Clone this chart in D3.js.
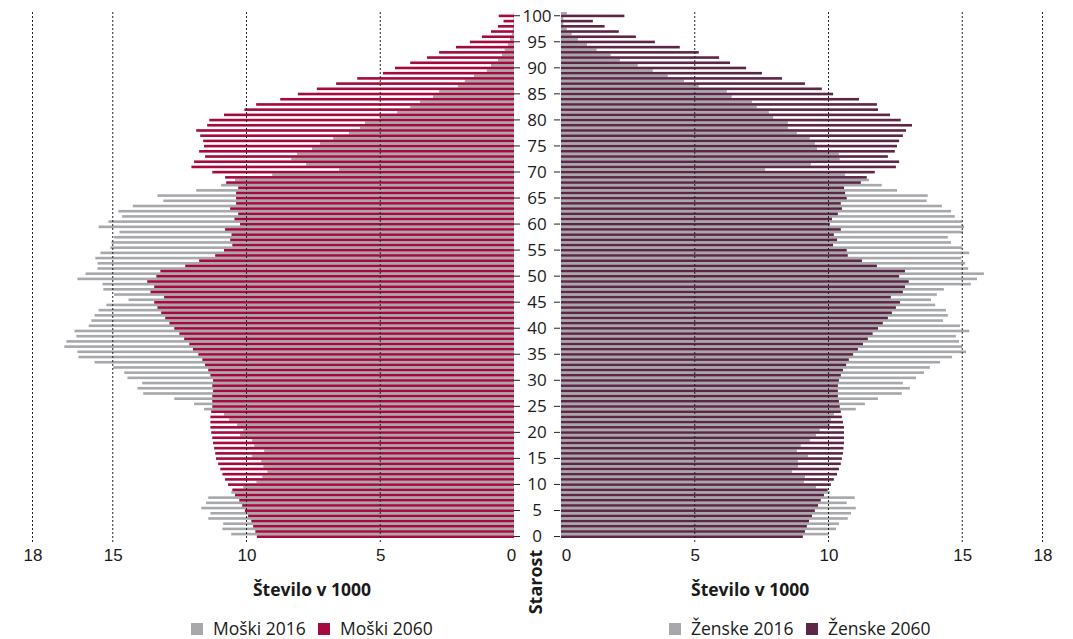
<!DOCTYPE html>
<html>
<head>
<meta charset="utf-8">
<script src="https://cdnjs.cloudflare.com/ajax/libs/d3/7.8.5/d3.min.js"></script>
<style>
  body { margin: 0; background: #fff; }
  svg { display: block; font-family: "Open Sans", Lato, sans-serif; }
</style>
</head>
<body>
<svg width="1073" height="639"></svg>
<script>
// ages 0..100, values in thousands
let ages = d3.range(0, 101);

let male2016 = [10.57, 10.90, 10.87, 11.43, 11.35, 11.69, 11.51, 11.43, 10.57, 10.12,
  9.63, 9.41, 9.22, 9.37, 9.45, 9.79, 9.34, 9.71, 9.79, 10.24,
  10.12, 10.35, 10.65, 10.84, 11.59, 11.96, 12.70, 13.86, 14.08, 13.90,
  14.45, 14.57, 14.98, 15.68, 16.28, 16.32, 16.81, 16.73, 16.36, 16.43,
  15.90, 15.80, 15.68, 15.53, 15.24, 14.41, 14.95, 15.35, 15.38, 16.32,
  16.02, 15.57, 15.57, 15.65, 15.46, 15.09, 15.05, 14.95, 14.75, 15.53,
  15.16, 14.65, 14.79, 14.25, 13.11, 13.33, 11.88, 10.95, 10.43, 9.04,
  6.54, 7.77, 8.33, 8.11, 7.55, 7.25, 6.76, 6.17, 5.76, 5.57,
  5.00, 4.37, 3.88, 3.51, 3.03, 2.80, 2.10, 1.84, 1.50, 1.02,
  0.86, 0.60, 0.45, 0.35, 0.23, 0.15, 0.08, 0.05, 0.03, 0.02, 0.01];

let male2060 = [9.61, 9.67, 9.75, 9.82, 9.94, 10.06, 10.16, 10.27, 10.43, 10.53,
  10.69, 10.80, 10.90, 10.98, 11.06, 11.14, 11.17, 11.21, 11.25, 11.28,
  11.32, 11.35, 11.35, 11.35, 11.32, 11.28, 11.28, 11.28, 11.25, 11.28,
  11.25, 11.35, 11.43, 11.55, 11.65, 11.80, 12.00, 12.14, 12.33, 12.51,
  12.70, 12.88, 13.04, 13.19, 13.33, 13.45, 13.08, 13.59, 13.45, 13.71,
  13.37, 13.22, 12.29, 11.77, 11.17, 10.84, 10.53, 10.61, 10.56, 10.80,
  10.24, 10.45, 10.31, 10.61, 10.39, 10.39, 10.39, 10.31, 10.76, 10.80,
  11.28, 12.06, 11.96, 11.55, 11.77, 11.59, 11.62, 11.73, 11.88, 11.47,
  11.39, 10.84, 10.08, 9.64, 8.74, 8.08, 7.37, 6.65, 5.86, 4.90,
  4.45, 3.88, 3.25, 2.80, 2.17, 1.65, 1.20, 0.86, 0.60, 0.39, 0.57];

let female2016 = [10.02, 10.28, 10.39, 10.72, 10.84, 11.02, 10.68, 10.98, 10.05, 9.53,
  9.08, 9.12, 8.64, 8.86, 8.86, 9.23, 8.82, 8.96, 9.30, 9.53,
  9.67, 10.05, 10.09, 10.20, 11.02, 11.36, 11.85, 12.74, 13.04, 12.78,
  13.27, 13.57, 13.79, 14.17, 14.62, 15.14, 15.00, 14.88, 14.76, 15.26,
  14.92, 14.28, 14.46, 14.39, 13.99, 13.83, 14.05, 14.31, 15.32, 15.55,
  15.81, 15.22, 15.11, 14.96, 15.26, 15.00, 14.58, 14.46, 15.03, 15.07,
  15.00, 14.72, 14.58, 14.24, 13.67, 13.71, 12.56, 11.99, 11.51, 10.62,
  7.63, 9.34, 10.42, 10.39, 9.57, 9.49, 9.30, 8.82, 8.48, 8.48,
  7.93, 7.77, 7.32, 7.14, 6.38, 6.20, 5.15, 4.60, 3.99, 3.43,
  2.87, 2.20, 1.86, 1.33, 0.97, 0.63, 0.40, 0.22, 0.09, 0.09, 0.22];

let female2060 = [9.04, 9.12, 9.19, 9.27, 9.38, 9.49, 9.61, 9.71, 9.83, 9.97,
  10.09, 10.20, 10.32, 10.39, 10.46, 10.50, 10.54, 10.56, 10.58, 10.58,
  10.58, 10.58, 10.54, 10.50, 10.46, 10.42, 10.39, 10.35, 10.35, 10.35,
  10.39, 10.46, 10.54, 10.66, 10.76, 10.92, 11.10, 11.29, 11.47, 11.65,
  11.85, 12.03, 12.22, 12.37, 12.52, 12.67, 12.33, 12.78, 12.86, 13.00,
  12.64, 12.86, 11.81, 11.25, 10.72, 10.68, 10.17, 10.32, 10.20, 10.46,
  10.05, 10.13, 10.35, 10.50, 10.46, 10.68, 10.62, 10.58, 11.21, 11.43,
  11.73, 12.52, 12.64, 12.22, 12.48, 12.56, 12.64, 12.78, 12.90, 13.12,
  12.70, 12.30, 11.85, 11.81, 11.14, 10.17, 9.75, 9.12, 8.26, 7.51,
  6.92, 6.32, 5.91, 5.15, 4.44, 3.51, 2.80, 2.16, 1.63, 1.19, 2.37];

let xTickValues = [0, 5, 10, 15, 18];
let ageTicks = d3.range(0, 101, 5);
let years = ["2016", "2060"];

let colors = {grey: "#a7a8ab", male: "#a6093d", female: "#5d2646"};

let svg = d3.select("svg");

let y = d3.scaleBand().domain(ages.slice().reverse()).range([12, 538]);
let sub = d3.scaleBand().domain(years).range([0, y.bandwidth()]);

let xL = d3.scaleLinear().domain([0, 18]).range([514, 32.5]),
    xR = d3.scaleLinear().domain([0, 18]).range([561, 1042.5]);

let panels = [
  {x: xL, left: true, series: [{year: "2016", values: male2016, color: colors.grey}, {year: "2060", values: male2060, color: colors.male}],
   title: "Število v 1000", titleX: xL(7.55),
   legend: [{label: "Moški 2016", color: colors.grey, x: 191}, {label: "Moški 2060", color: colors.male, x: 318}]},
  {x: xR, left: false, series: [{year: "2016", values: female2016, color: colors.grey}, {year: "2060", values: female2060, color: colors.female}],
   title: "Število v 1000", titleX: xR(7.07),
   legend: [{label: "Ženske 2016", color: colors.grey, x: 669}, {label: "Ženske 2060", color: colors.female, x: 806}]}
];

panels.forEach((p) => {
  let g = svg.append("g");

  p.series.forEach((s) => {
    g.append("g").selectAll("rect")
      .data(ages)
      .enter().append("rect")
        .attr("x", (a) => p.left ? p.x(s.values[a]) : p.x(0))
        .attr("width", (a) => Math.abs(p.x(s.values[a]) - p.x(0)))
        .attr("y", (a) => y(a) + sub(s.year))
        .attr("height", sub.bandwidth())
        .style("fill", s.color);
  });

  // dotted grid on top of bars
  g.append("g").selectAll("line")
    .data(xTickValues.filter((d) => d > 0))
    .enter().append("line")
      .attr("x1", (d) => p.x(d)).attr("x2", (d) => p.x(d))
      .attr("y1", 12).attr("y2", 544)
      .style("stroke", "#222")
      .style("stroke-width", 1)
      .style("stroke-dasharray", "2,2");

  let ax = g.append("g")
      .attr("transform", "translate(0,543)")
      .call(d3.axisBottom(p.x).tickValues(xTickValues).tickSize(0).tickPadding(6).tickFormat(d3.format("d")));
  ax.select(".domain").remove();
  ax.selectAll("text")
      .style("font-size", "17px")
      .style("fill", "#1a1a1a")
      .attr("dx", (d) => d === 0 ? (p.left ? -3 : 5) : 0);

  g.append("text")
      .attr("x", p.titleX)
      .attr("y", 590)
      .attr("dy", "0.35em")
      .style("text-anchor", "middle")
      .style("font-size", "17.5px")
      .style("font-weight", "bold")
      .style("fill", "#1a1a1a")
      .text(p.title);

  let leg = g.append("g").selectAll("g")
    .data(p.legend)
    .enter().append("g")
      .attr("transform", (d) => "translate(" + d.x + ",629)");
  leg.append("rect")
      .attr("y", -6).attr("width", 12).attr("height", 12)
      .style("fill", (d) => d.color);
  leg.append("text")
      .attr("x", 22)
      .attr("dy", "0.35em")
      .style("font-size", "17.5px")
      .style("fill", "#1a1a1a")
      .text((d) => d.label);
});

// central age axis
let ageY = (a) => y(a) + y.bandwidth() * 0.72;
let ag = svg.append("g").selectAll("g")
  .data(ageTicks)
  .enter().append("g")
    .attr("transform", (a) => "translate(0," + ageY(a) + ")");
ag.append("line").attr("x1", 514).attr("x2", 520).style("stroke", "#222");
ag.append("line").attr("x1", 554).attr("x2", 560).style("stroke", "#222");
ag.append("text")
    .attr("x", 537)
    .attr("dy", "0.35em")
    .style("text-anchor", "middle")
    .style("font-size", "17px")
    .style("fill", "#1a1a1a")
    .text((a) => a);

svg.append("text")
    .attr("transform", "translate(536,582) rotate(-90)")
    .attr("dy", "0.35em")
    .style("text-anchor", "middle")
    .style("font-size", "18px")
    .style("font-weight", "bold")
    .style("fill", "#1a1a1a")
    .text("Starost");
</script>
</body>
</html>
